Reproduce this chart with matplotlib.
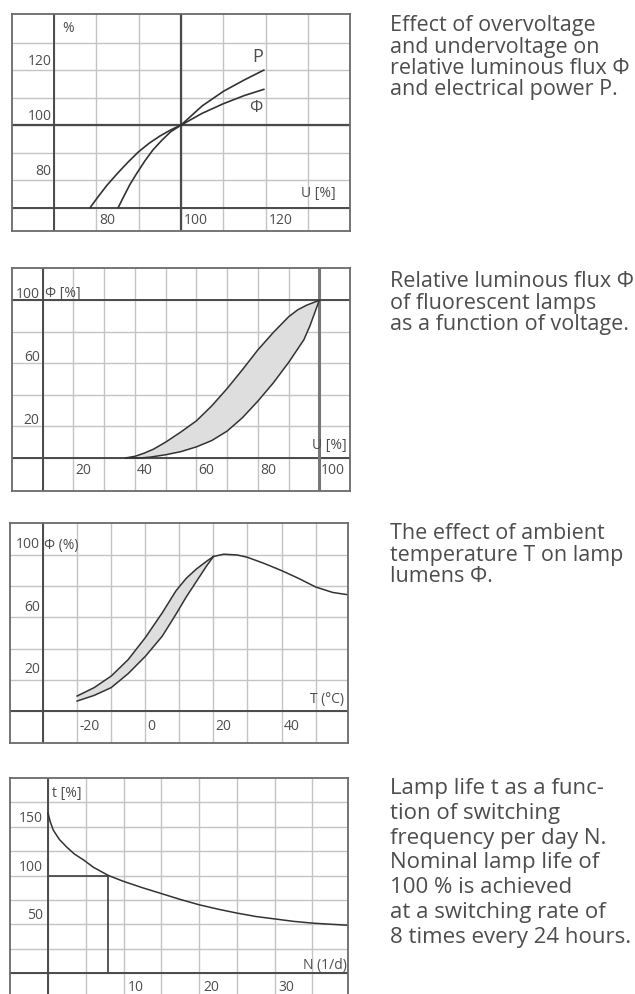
import matplotlib.pyplot as plt

W, H, DPI = 635, 994, 100

# panel 1: over/undervoltage, U [%] vs value [%]
p1_flux_u = [78.6, 80.5, 82.5, 85, 87.5, 90, 92.5, 95, 97.5, 100, 105, 110, 115, 119.5]
p1_flux_v = [70, 74, 78, 82.4, 86.5, 90.3, 93.4, 96, 98.2, 100, 104.3, 107.8, 110.8, 113]
p1_power_u = [85.2, 86.5, 88, 89.6, 91.5, 93.4, 95.5, 97.5, 100, 105, 110, 115, 119.5]
p1_power_v = [70, 74, 78.5, 82.5, 87, 91, 94.5, 97.5, 100, 107, 112.3, 116.5, 120]
p1_xticks = [80, 100, 120]
p1_yticks = [80, 100, 120]

# panel 2: fluorescent lamps, flux vs voltage (band)
p2_upper_u = [37, 40, 43, 46, 50, 55, 60, 65, 70, 75, 80, 85, 90, 93, 96, 100]
p2_upper_v = [0, 1, 3, 5.5, 10, 16.5, 23.5, 33, 44, 56, 68.5, 79.5, 89.5, 94, 97, 100]
p2_lower_u = [37, 42, 45, 50, 55, 60, 65, 70, 75, 80, 85, 90, 95, 97, 100]
p2_lower_v = [0, 0, 0.5, 2, 4, 7, 11, 17, 25.5, 36, 47.5, 60.5, 75, 84, 100]
p2_xticks = [20, 40, 60, 80, 100]
p2_yticks = [20, 60, 100]

# panel 3: ambient temperature T [C] vs lamp lumens (band + single curve)
p3_upper_t = [-20, -15, -10, -5, 0, 5, 9, 12, 15, 18, 20]
p3_upper_v = [9.6, 15, 22.4, 33, 47, 63, 77, 85, 91, 96, 99]
p3_lower_t = [-20, -15, -10, -5, 0, 5, 9, 12, 15, 18, 20]
p3_lower_v = [6.4, 10, 15, 24, 35, 48, 62, 73, 83, 93, 99]
p3_tail_t = [20, 23, 27, 30, 35, 40, 45, 50, 55, 59.5]
p3_tail_v = [99, 100.5, 100, 98.5, 94.5, 90, 85, 79.5, 76, 74.5]
p3_xticks = [-20, 0, 20, 40]
p3_yticks = [20, 60, 100]

# panel 4: lamp life t [%] vs switching frequency N [1/d]
p4_n = [0, 0.3, 0.7, 1.5, 2.5, 3.5, 4.7, 6, 8, 10, 12.5, 15, 17.5, 20, 22.5, 25, 27.5, 30, 32.5, 35, 37.5, 39.7]
p4_t = [164, 155, 146.5, 137, 129, 122, 116, 108.5, 100, 94, 87.5, 81.5, 75.5, 70, 65.5, 61.5, 58, 55.5, 53, 51.2, 50, 49]
p4_nominal_n = 8
p4_nominal_t = 100
p4_xticks = [10, 20, 30]
p4_yticks = [50, 100, 150]

captions = [
    ["Effect of overvoltage", "and undervoltage on", "relative luminous flux \u03a6", "and electrical power P."],
    ["Relative luminous flux \u03a6", "of fluorescent lamps", "as a function of voltage."],
    ["The effect of ambient", "temperature T on lamp", "lumens \u03a6."],
    ["Lamp life t as a func-", "tion of switching", "frequency per day N.", "Nominal lamp life of",
     "100 % is achieved", "at a switching rate of", "8 times every 24 hours."],
]

GRID = "#c4c4c4"
AXIS = "#4a4a4a"
CURVE = "#333333"
FILL = "#dedede"
TXT = "#4d4d4d"
plt.rcParams["font.family"] = ["Open Sans", "DejaVu Sans"]

fig = plt.figure(figsize=(W / DPI, H / DPI), dpi=DPI)


def panel(left, top, right, bottom, xlim, ylim, xgrid, ygrid):
    ax = fig.add_axes([left / W, 1 - bottom / H, (right - left) / W, (bottom - top) / H])
    ax.set_xlim(xlim)
    ax.set_ylim(ylim)
    ax.set_xticks(xgrid)
    ax.set_yticks(ygrid)
    ax.tick_params(length=0, labelbottom=False, labelleft=False)
    ax.grid(True, color=GRID, lw=1.0)
    ax.set_axisbelow(True)
    for s in ax.spines.values():
        s.set_color("#6a6a6a")
        s.set_linewidth(1.3)
    return ax


def ticklabels(ax, xs, xaxis_y, ys, yaxis_x, xoff, yoff):
    # x labels sit just right of their grid line, under the x axis;
    # y labels sit just left of the y axis, above their grid line
    for v in xs:
        ax.annotate(str(v), xy=(v, xaxis_y), xytext=xoff, textcoords="offset pixels",
                    ha="left", va="center", fontsize=10, color=TXT, annotation_clip=False)
    for v in ys:
        ax.annotate(str(v), xy=(yaxis_x, v), xytext=yoff, textcoords="offset pixels",
                    ha="right", va="center", fontsize=10, color=TXT, annotation_clip=False)


def ftext(x, y, s, **kw):
    kw.setdefault("fontsize", 10)
    kw.setdefault("color", TXT)
    fig.text(x / W, 1 - y / H, s, **kw)


# ---- panel 1
ax1 = panel(12, 14, 350, 231, (60.2, 139.8), (61.5, 140.4), range(70, 140, 10), range(70, 140, 10))
ax1.axvline(70, color=AXIS, lw=1.4)
ax1.axhline(70, color=AXIS, lw=1.4)
ax1.axvline(100, color=AXIS, lw=1.6)
ax1.axhline(100, color=AXIS, lw=1.6)
ax1.plot(p1_flux_u, p1_flux_v, color=CURVE, lw=1.2)
ax1.plot(p1_power_u, p1_power_v, color=CURVE, lw=1.2)
ticklabels(ax1, p1_xticks, 70, p1_yticks, 70, (3, -13), (-2, 9))
ftext(62, 28, "%", va="center")
ftext(336, 193, "U [%]", ha="right", va="center")
ftext(258, 57, "P", ha="center", va="center", fontsize=13)
ftext(256, 108, "\u03a6", ha="center", va="center", fontsize=12)

# ---- panel 2
ax2 = panel(12, 268, 350, 491, (0, 110), (-21, 120.5), range(10, 110, 10), range(0, 120, 20))
ax2.axvline(10, color=AXIS, lw=1.4)
ax2.axhline(0, color=AXIS, lw=1.4)
ax2.axvline(100, color="#777777", lw=2.2)
ax2.axhline(100, color=AXIS, lw=1.4)
ax2.fill(p2_upper_u + p2_lower_u[::-1], p2_upper_v + p2_lower_v[::-1], color=FILL, lw=0)
ax2.plot(p2_upper_u, p2_upper_v, color=CURVE, lw=1.1)
ax2.plot(p2_lower_u, p2_lower_v, color=CURVE, lw=1.1)
ticklabels(ax2, p2_xticks, 0, p2_yticks, 10, (2, -13), (-3, 6))
ftext(45, 293, "\u03a6 [%]", va="center")
ftext(347, 445, "U [%]", ha="right", va="center")

# ---- panel 3
ax3 = panel(10, 523, 348, 743, (-39.7, 59.5), (-20.5, 120.5), range(-30, 60, 10), range(0, 120, 20))
ax3.axvline(-30, color=AXIS, lw=1.4)
ax3.axhline(0, color=AXIS, lw=1.4)
ax3.fill(p3_upper_t + p3_lower_t[::-1], p3_upper_v + p3_lower_v[::-1], color=FILL, lw=0)
ax3.plot(p3_upper_t, p3_upper_v, color=CURVE, lw=1.1)
ax3.plot(p3_lower_t, p3_lower_v, color=CURVE, lw=1.1)
ax3.plot(p3_tail_t, p3_tail_v, color=CURVE, lw=1.1)
ticklabels(ax3, p3_xticks, 0, p3_yticks, -30, (2, -15), (-3, 10))
ftext(44, 545, "\u03a6 (%)", va="center")
ftext(344, 700, "T (\u00b0C)", ha="right", va="center")

# ---- panel 4 (bottom edge runs off the page)
ax4 = panel(10, 778, 348, 1003, (-5.03, 39.7), (-30.7, 200), range(0, 40, 5), range(0, 200, 25))
ax4.axvline(0, color=AXIS, lw=1.4)
ax4.axhline(0, color=AXIS, lw=1.4)
ax4.plot([0, p4_nominal_n], [p4_nominal_t, p4_nominal_t], color=AXIS, lw=1.3)
ax4.plot([p4_nominal_n, p4_nominal_n], [0, p4_nominal_t], color=AXIS, lw=1.3)
ax4.plot(p4_n, p4_t, color=CURVE, lw=1.1)
ticklabels(ax4, p4_xticks, 0, p4_yticks, 0, (4, -14), (-5, 8.5))
ftext(52, 794, "t [%]", va="center")
ftext(347, 966, "N (1/d)", ha="right", va="center")

# ---- captions on the right
caption_base = [31, 287, 539, 794]
caption_step = [21.5, 21.5, 21.5, 24.8]
caption_size = [15.5, 15.5, 15.5, 16]
for lines, y0, step, fs in zip(captions, caption_base, caption_step, caption_size):
    for i, line in enumerate(lines):
        ftext(390, y0 + i * step, line, va="baseline", fontsize=fs)

fig.savefig("out.png", dpi=DPI)
